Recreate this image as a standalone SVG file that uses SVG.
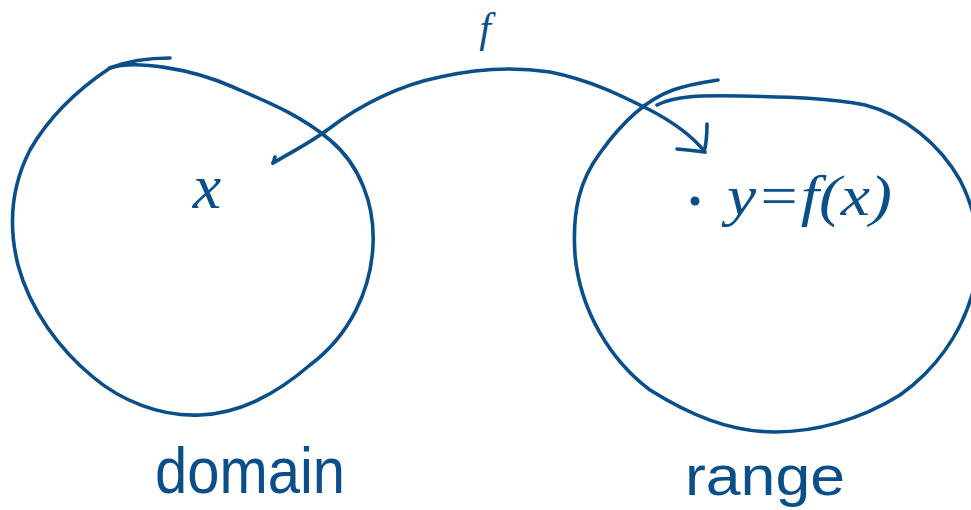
<svg xmlns="http://www.w3.org/2000/svg" width="971" height="510" viewBox="0 0 971 510">
<style>
.ink{fill:none;stroke:#0b4f8a;stroke-width:3.6;stroke-linecap:round;stroke-linejoin:round}
.hand{fill:#0b4f8a;font-family:"Liberation Sans",Arial,sans-serif}
.math{fill:#0b4f8a;font-family:"Liberation Serif","Times New Roman",serif;font-style:italic}
</style>
<rect width="971" height="510" fill="#ffffff"/>
<g id="domain">
<path class="ink" d="M110,68 C135,60 190,68 233,87 C270,103 300,115 330,140 C360,165 375,205 373,245 C371,290 350,335 310,365 C275,395 240,413 200,415 C160,417 120,400 93,377 C60,350 30,310 18,265 C8,225 12,185 30,150 C50,115 80,88 110,68"/>
<path class="ink" d="M110,68 Q135,58 170,58"/>
<text class="math" x="207" y="208" font-size="64" text-anchor="middle">x</text>
<text class="hand" x="155" y="493" font-size="64" textLength="190" lengthAdjust="spacingAndGlyphs">domain</text>
</g>
<g id="range">
<path class="ink" d="M657,105 C675,96 700,95 740,96 C790,97 830,98 865,105 C905,115 940,145 960,180 C978,215 985,260 972,295 C960,335 935,370 900,395 C860,420 815,432 775,432 C730,432 690,415 650,390 C610,360 580,310 575,255 C572,210 580,180 600,153 C620,125 645,100 673,90 C690,84 705,82 718,80"/>
<circle cx="695" cy="201" r="4.5" fill="#0b4f8a"/>
<text class="math" x="727" y="215" font-size="56" textLength="165" lengthAdjust="spacingAndGlyphs">y=f(x)</text>
<text class="hand" x="685" y="495" font-size="56" textLength="160" lengthAdjust="spacingAndGlyphs">range</text>
</g>
<g id="connectors">
<path class="ink" d="M273,163 C295,150 310,143 330,128 C360,105 400,85 440,77 C475,69 510,66 550,72 C590,80 620,95 650,110 C675,123 693,137 705,152"/>
<path class="ink" d="M707,124 C707,135 706,145 704,152 M677,149 C690,150 698,151 704,152 M273,163 L275,157"/>
<text class="math" x="485" y="42" font-size="42" text-anchor="middle">f</text>
</g>
</svg>
